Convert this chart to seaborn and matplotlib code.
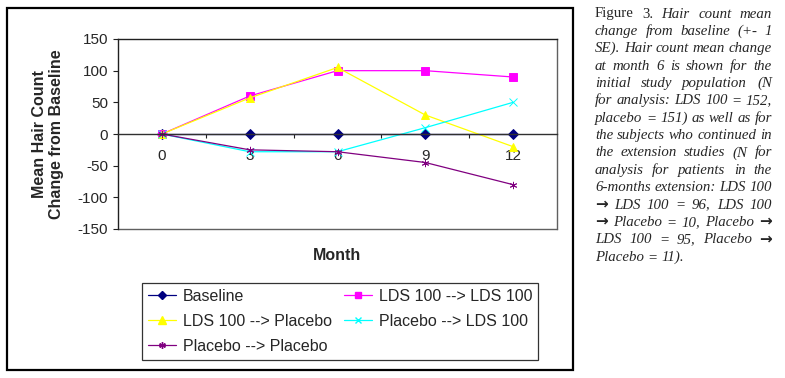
import numpy as np
import pandas as pd
import matplotlib
matplotlib.use('Agg')
import matplotlib.pyplot as plt
import seaborn as sns
from matplotlib.lines import Line2D
from matplotlib.patches import Rectangle
from matplotlib.ticker import FixedLocator

# ---------------- data ----------------
months = ['0', '3', '6', '9', '12']
series = ['Baseline', 'LDS 100 --> LDS 100', 'LDS 100 --> Placebo',
          'Placebo --> LDS 100', 'Placebo --> Placebo']
baseline = [0, 0, 0, 0, 0]
lds_lds = [0, 60, 100, 100, 90]
lds_pla = [0, 57, 105, 30, -20]
pla_lds = [0, -28, -28, 10, 50]
pla_pla = [0, -25, -28, -45, -80]
y_ticks = [-150, -100, -50, 0, 50, 100, 150]

caption_lines = [
    "Figure 3. Hair count mean",
    "change from baseline (+- 1",
    "SE). Hair count mean change",
    "at month 6 is shown for the",
    "initial study population (N",
    "for analysis: LDS 100 = 152,",
    "placebo = 151) as well as for",
    "the subjects who continued in",
    "the extension studies (N for",
    "analysis for patients in the",
    "6-months extension: LDS 100",
    "\u2192 LDS 100 = 96, LDS 100",
    "\u2192 Placebo = 10, Placebo \u2192",
    "LDS 100 = 95, Placebo \u2192",
    "Placebo = 11).",
]

values = [baseline, lds_lds, lds_pla, pla_lds, pla_pla]
df = pd.DataFrame({
    'Month': [m for _ in series for m in months],
    'Change': [v for vals in values for v in vals],
    'Series': [s for s in series for _ in months],
})

colors = ['#000080', '#FF00FF', '#FFFF00', '#00FFFF', '#800080']
markers = ['D', 's', '^', 'x', (6, 2, 0)]
msizes = [4.5, 5.5, 6.5, 5.5, 6]

# ---------------- style ----------------
sns.set_style('white')
plt.rcParams['font.family'] = ['Liberation Sans', 'DejaVu Sans']
plt.rcParams['axes.unicode_minus'] = False

W, H = 785, 378
fig = plt.figure(figsize=(W / 100, H / 100), dpi=100)
ax = fig.add_axes([118 / W, (H - 229) / H, 439 / W, 190 / H])

sns.pointplot(data=df, x='Month', y='Change', hue='Series', order=months,
              hue_order=series, palette=colors, markers=markers,
              linestyles='-', errorbar=None, ax=ax, markersize=5.2,
              linewidth=0.9, legend=False)

ax.set_xlim(-0.5, 4.5)
ax.set_ylim(-150, 150)
ax.set_yticks(y_ticks)
ax.set_yticklabels([str(v) for v in y_ticks])

# axes frame / zero axis
ax.spines['bottom'].set_position(('data', 0))
ax.spines['bottom'].set_color('#303030')
ax.spines['bottom'].set_linewidth(1.0)
ax.spines['left'].set_color('#202020')
ax.spines['top'].set_color('#202020')
ax.spines['right'].set_color('#606060')
for s in ['left', 'top', 'right']:
    ax.spines[s].set_linewidth(1.0)
    ax.spines[s].set_visible(True)
ax.add_line(Line2D([0, 1], [0, 0], transform=ax.transAxes, color='#606060',
                   lw=1.0, clip_on=False))

ax.tick_params(axis='y', which='major', left=True, length=3.6, width=0.8,
               direction='out', pad=3.5, labelsize=11, color='#202020')
ax.tick_params(axis='x', which='major', bottom=True, length=0, pad=11, labelsize=11)
ax.xaxis.set_minor_locator(FixedLocator([0.5, 1.5, 2.5, 3.5]))
ax.tick_params(axis='x', which='minor', bottom=True, length=3, width=0.8,
               direction='out', color='#202020')

ax.set_xlabel('Month', fontweight='bold', fontsize=11.5)
ax.xaxis.set_label_coords(0.5, (229 - 248) / 190)
ax.set_ylabel('Mean Hair Count\nChange from Baseline', fontweight='bold',
              fontsize=11.5, linespacing=1.2)
ax.yaxis.label.set_va('center')
ax.yaxis.set_label_coords((48 - 118) / 439, 0.5)

# legend
handles = [Line2D([], [], color=c, marker=m, markersize=ms * 0.8, lw=0.9,
                  markeredgecolor=c, markerfacecolor=c)
           for c, m, ms in zip(colors, markers, msizes)]
order = [0, 2, 4, 1, 3]
leg = fig.legend([handles[i] for i in order], [series[i] for i in order],
                 ncol=2, loc='upper left',
                 bbox_to_anchor=(142 / W, 1 - 283 / H),
                 bbox_transform=fig.transFigure, frameon=True, fancybox=False,
                 edgecolor='black', fontsize=11.5, handlelength=1.8,
                 handletextpad=0.4, columnspacing=0.75, labelspacing=0.64,
                 borderpad=0.35, borderaxespad=0)
leg.get_frame().set_linewidth(0.9)

# outer chart frame
fig.add_artist(Rectangle((7 / W, 1 - 370 / H), 566 / W, 362 / H,
                         transform=fig.transFigure, fill=False,
                         edgecolor='black', lw=1.6))

# justified caption
renderer = fig.canvas.get_renderer()
cx0, cx1 = 595, 772
base0, step = 17.5, 17.37
cap_font = ['Liberation Serif', 'DejaVu Serif']
cap_size = 10.7
for i, line in enumerate(caption_lines):
    yb = 1 - (base0 + i * step) / H
    words = line.split(' ')
    texts = []
    for j, w in enumerate(words):
        if w == '\u2192':
            t = fig.text(0, yb, w, fontsize=11, family=['DejaVu Sans'],
                         fontweight='bold', va='baseline', ha='left')
        else:
            st = 'normal' if (i == 0 and j < 2) else 'italic'
            t = fig.text(0, yb, w, fontsize=cap_size, family=cap_font, style=st,
                         va='baseline', ha='left')
        texts.append(t)
    widths = [t.get_window_extent(renderer).width for t in texts]
    if i == len(caption_lines) - 1:
        gap = 0.25 * cap_size * 100 / 72
    else:
        gap = (cx1 - cx0 - sum(widths)) / max(len(words) - 1, 1)
    x = cx0
    for t, wd in zip(texts, widths):
        t.set_x(x / W)
        x += wd + gap

fig.savefig('out.png', dpi=100, facecolor='white')
